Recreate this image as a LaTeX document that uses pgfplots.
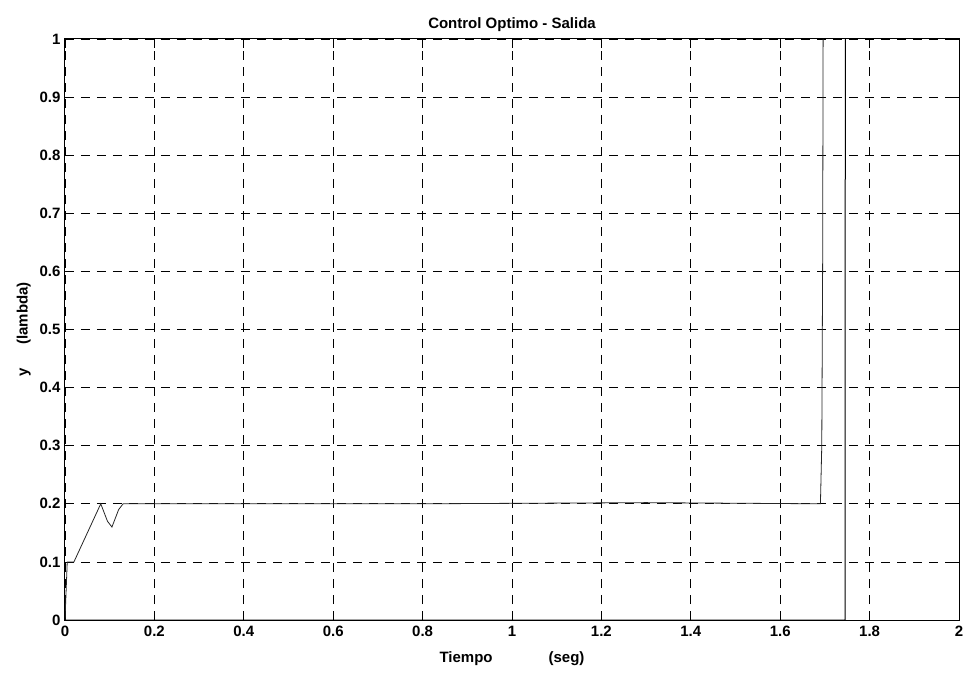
\documentclass[border=0pt]{standalone}
\usepackage{pgfplots}
\pgfplotsset{compat=1.18}
\usepackage{fontspec}
\setmainfont{Liberation Sans}
\begin{document}
\begin{tikzpicture}
\path[use as bounding box] (-65pt,-55pt) rectangle (902pt,620pt);
\begin{axis}[
  at={(0pt,0pt)}, anchor=south west,
  scale only axis, width=894pt, height=581pt,
  xmin=0, xmax=2, ymin=0, ymax=1,
  xtick={0,0.2,...,2}, ytick={0,0.1,...,1},
  xticklabels={0,0.2,0.4,0.6,0.8,1,1.2,1.4,1.6,1.8,2},
  yticklabels={0,0.1,0.2,0.3,0.4,0.5,0.6,0.7,0.8,0.9,1},
  tick align=inside, major tick length=9pt,
  tick style={black, line width=0.8pt},
  grid=major,
  major grid style={black, dashed, line width=0.8pt, dash pattern=on 9pt off 7pt},
  axis line style={black, line width=1pt},
  font=\fontsize{15}{18}\selectfont,
  ticklabel style={font=\fontsize{15}{18}\selectfont\bfseries},
  xticklabel style={text height=11pt, text depth=0pt, yshift=-2pt},
  yticklabel style={xshift=-1pt},
  title={\bfseries Control Optimo - Salida},
  title style={yshift=-2pt},
  xlabel={\bfseries Tiempo\hspace{56pt}(seg)},
  ylabel={\bfseries y\hspace{24pt}(lambda)},
  xlabel style={yshift=-8pt},
  ylabel style={yshift=2pt},
  clip=true,
]
\addplot[black!85, line width=0.8pt] coordinates {
  (0,0) (0.003,0.06) (0.005,0.1) (0.02,0.1) (0.05,0.15) (0.08,0.2)
  (0.095,0.17) (0.105,0.16) (0.12,0.19) (0.13,0.2)
  (0.8,0.2) (1.3,0.202) (1.69,0.2) (1.693,0.3) (1.695,0.62) (1.696,1.0)
};
\addplot[black, line width=1pt] coordinates {
  (0,0) (1.745,0) (1.745,0.5) (1.746,1.0)
};
\end{axis}
\end{tikzpicture}
\end{document}
